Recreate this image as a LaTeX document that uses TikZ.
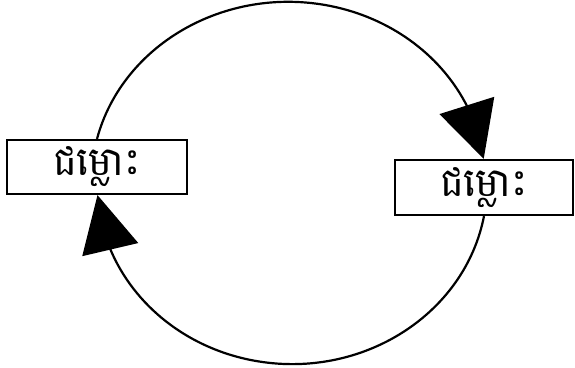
\documentclass[tikz,border=0pt]{standalone}
\usepackage{fontspec}
\newfontfamily\khmerfont[Script=Khmer]{Battambang}
\usetikzlibrary{arrows.meta,bending}
\begin{document}
\begin{tikzpicture}[
  box/.style={draw, line width=2.2pt, minimum width=180pt, minimum height=54pt,
    inner sep=0pt, fill=white, font=\khmerfont\fontsize{40}{48}\selectfont},
  link/.style={line width=2.2pt, -{Triangle[length=56pt,width=57pt,flex]}}]
\useasboundingbox (0,0) rectangle (575pt,367pt);
\node[box] (L) at (97pt,200pt) {ជម្លោះ};
\node[box, minimum width=178pt, minimum height=55pt] (R) at (484pt,179.5pt) {ជម្លោះ};
\draw[link] (L.north) arc[start angle=166.2, end angle=7.34, x radius=197pt, y radius=180pt];
\draw[link] (R.south) arc[start angle=-10.24, end angle=-176.5, x radius=195pt, y radius=180pt];
\end{tikzpicture}
\end{document}
